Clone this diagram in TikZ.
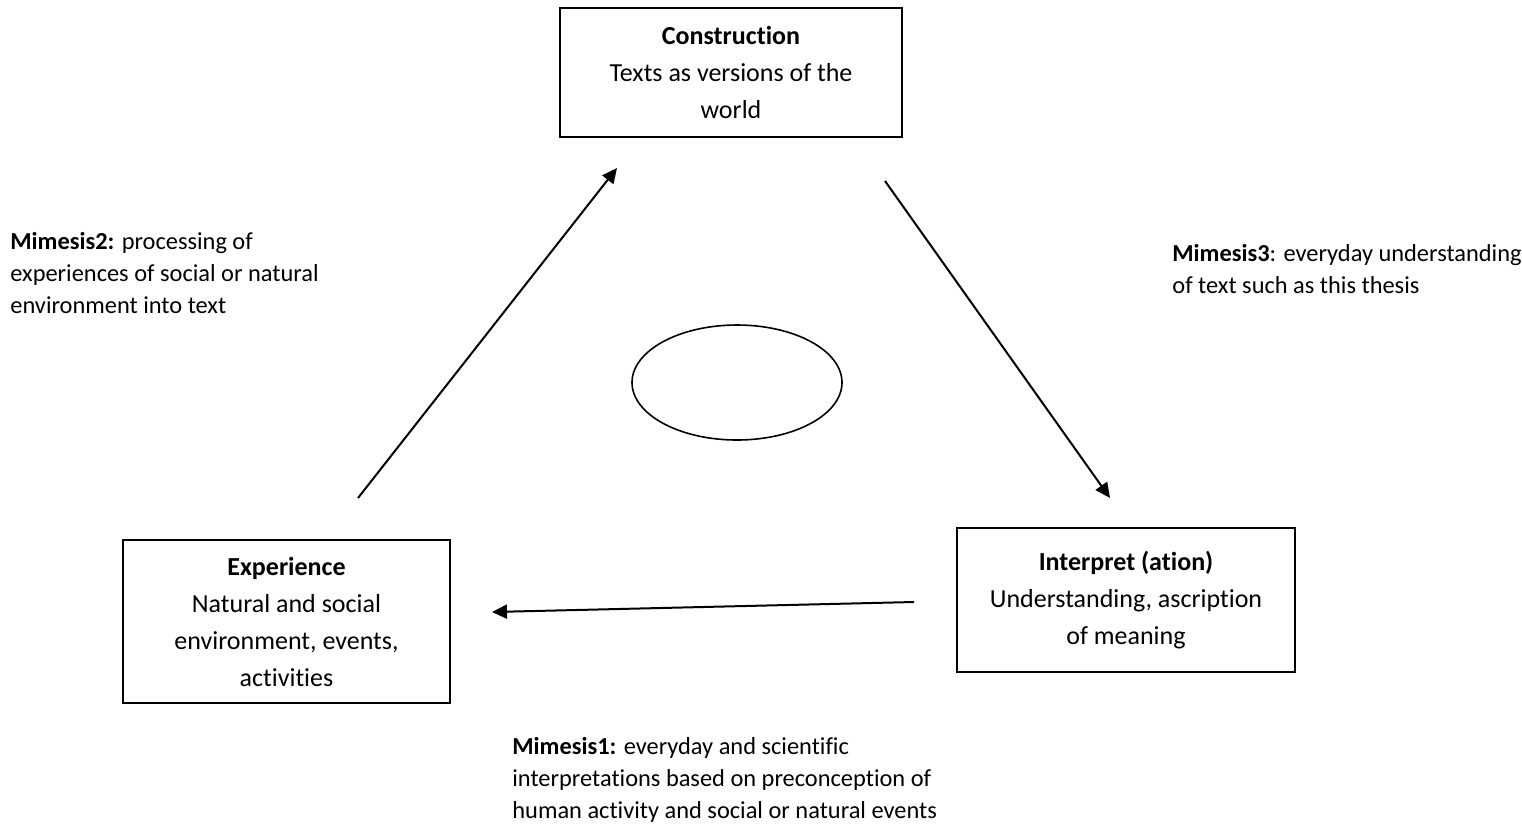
\documentclass[tikz,border=0pt]{standalone}
\usepackage{fontspec}
\setmainfont{Carlito}[Ligatures={NoCommon}]
\usetikzlibrary{arrows.meta,shapes.geometric}
\begin{document}
\begin{tikzpicture}[x=0.5pt,y=-0.5pt,
  box/.style={draw,line width=1pt,rectangle,align=center,inner sep=0pt,
    font=\fontsize{13}{18.5}\selectfont},
  lbl/.style={align=left,inner sep=0pt,anchor=base west,
    font=\fontsize{12.2}{16}\selectfont},
  conn/.style={line width=1pt,-{Triangle[length=7.5pt,width=7pt]}}]
\useasboundingbox (0,0) rectangle (1522,832);
\node[box,minimum width=171pt,minimum height=64.5pt] (con) at (731,72.5)
  {\textbf{Construction}\\Texts as versions of the\\world};
\node[box,minimum width=163.5pt,minimum height=81.5pt] (exp) at (286.5,621.5)
  {\textbf{Experience}\\Natural and social\\environment, events,\\activities};
\node[box,minimum width=169pt,minimum height=72pt] (int) at (1126,600)
  {\textbf{Interpret (ation)}\\Understanding, ascription\\of meaning};
\node[draw,line width=0.8pt,ellipse,minimum width=105pt,minimum height=57.5pt,inner sep=0pt] (ell) at (737,382.5) {};
\coordinate (a1s) at (358,498);
\coordinate (a1e) at (617,168);
\coordinate (a2s) at (885,181);
\coordinate (a2e) at (1110,498);
\coordinate (a3s) at (914,602);
\coordinate (a3e) at (492,612);
\draw[conn] (a1s) -- (a1e);
\draw[conn] (a2s) -- (a2e);
\draw[conn] (a3s) -- (a3e);
\node[lbl] (m2) at (10,313) {\textbf{Mimesis2:} processing of\\experiences of social or natural\\environment into text};
\node[lbl] (m3) at (1172,293) {\textbf{Mimesis3}: everyday understanding\\of text such as this thesis};
\node[lbl] (m1) at (512,818) {\textbf{Mimesis1:} everyday and scientific\\interpretations based on preconception of\\human activity and social or natural events};
\end{tikzpicture}
\end{document}
